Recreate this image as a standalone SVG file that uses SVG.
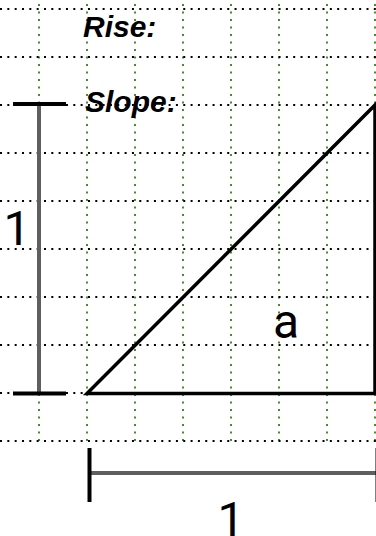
<svg xmlns="http://www.w3.org/2000/svg" width="376" height="536" viewBox="0 0 376 536">
<style>
.h{stroke:#000;stroke-width:2;stroke-dasharray:2 5.33}
.v{stroke:#4a8c2a;stroke-width:2;stroke-dasharray:2 5.5}
.bar{stroke:#5f5f5f;stroke-width:4}
.cap{stroke:#000;stroke-width:4}
.lbl{font-family:Roboto,"Liberation Sans",sans-serif;font-size:48px;fill:#000}
.ttl{font-family:"Liberation Sans",Arial,sans-serif;font-size:30px;font-weight:bold;font-style:italic;fill:#000}
</style>
<rect width="376" height="536" fill="#fff"/>
<g id="grid">
<line class="v" x1="39" y1="4" x2="39" y2="441"/>
<line class="v" x1="87" y1="4" x2="87" y2="441"/>
<line class="v" x1="135" y1="4" x2="135" y2="441"/>
<line class="v" x1="183" y1="4" x2="183" y2="441"/>
<line class="v" x1="231" y1="4" x2="231" y2="441"/>
<line class="v" x1="279" y1="4" x2="279" y2="441"/>
<line class="v" x1="327" y1="4" x2="327" y2="441"/>
<line class="v" x1="375" y1="4" x2="375" y2="441"/>
<line class="h" x1="0" y1="9" x2="376" y2="9"/>
<line class="h" x1="0" y1="57" x2="376" y2="57"/>
<line class="h" x1="0" y1="105" x2="376" y2="105"/>
<line class="h" x1="0" y1="153" x2="376" y2="153"/>
<line class="h" x1="0" y1="201" x2="376" y2="201"/>
<line class="h" x1="0" y1="249" x2="376" y2="249"/>
<line class="h" x1="0" y1="297" x2="376" y2="297"/>
<line class="h" x1="0" y1="345" x2="376" y2="345"/>
<line class="h" x1="0" y1="393" x2="376" y2="393"/>
<line class="h" x1="0" y1="441" x2="376" y2="441"/>
</g>
<g id="titles">
<text class="ttl" x="83" y="37">Rise:</text>
<text class="ttl" x="85" y="112">Slope:</text>
</g>
<g id="vertical-scale">
<line class="bar" x1="39" y1="104" x2="39" y2="393"/>
<line class="cap" x1="13" y1="104" x2="66" y2="104"/>
<line class="cap" x1="13" y1="393.5" x2="66" y2="393.5"/>
<text class="lbl" x="17" y="245" text-anchor="middle">1</text>
</g>
<g id="triangle">
<path d="M87 393.5 L375 393.5 L375 105 Z" fill="none" stroke="#000" stroke-width="3.5" stroke-linejoin="miter"/>
<text class="lbl" x="286" y="338" text-anchor="middle">a</text>
</g>
<g id="horizontal-scale">
<line class="bar" x1="89.5" y1="473" x2="377" y2="473"/>
<line class="cap" x1="89.5" y1="448" x2="89.5" y2="502"/>
<line class="cap" x1="377.5" y1="448" x2="377.5" y2="502"/>
<text class="lbl" x="231" y="536" text-anchor="middle">1</text>
</g>
</svg>
